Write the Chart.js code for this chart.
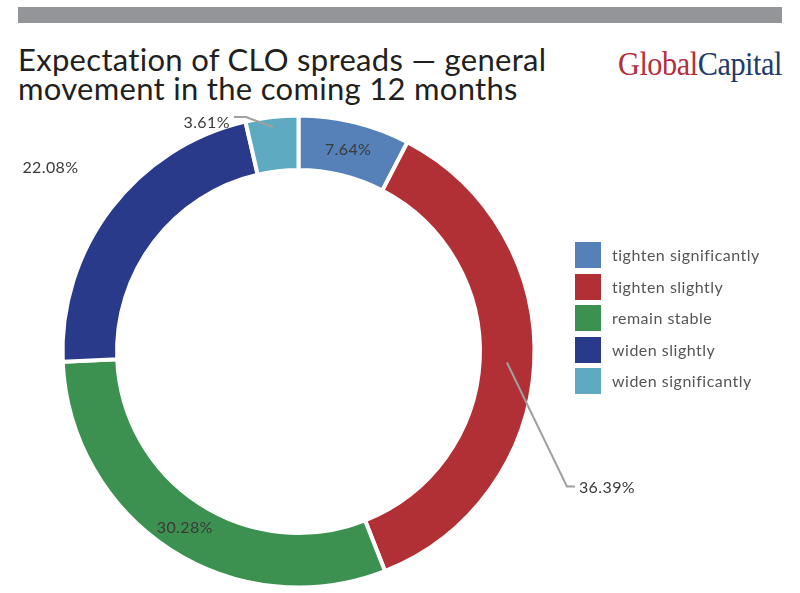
<!DOCTYPE html>
<html>
<head>
<meta charset="utf-8">
<script src="https://cdn.jsdelivr.net/npm/chart.js@4/dist/chart.umd.min.js"></script>
<style>
  html,body{margin:0;padding:0;background:#fff;}
  #wrap{position:relative;width:800px;height:593px;overflow:hidden;}
  #bar{position:absolute;left:18px;top:7px;width:764px;height:16px;background:#939598;}
  #title{position:absolute;left:18px;top:45px;font-family:Lato,"Open Sans",sans-serif;font-size:31px;line-height:29px;letter-spacing:0.3px;color:#231f20;white-space:nowrap;}
  #logo{position:absolute;left:618px;top:47px;font-family:"Liberation Serif","DejaVu Serif",serif;font-size:34px;line-height:34px;white-space:nowrap;transform-origin:0 0;letter-spacing:-0.5px;}
  #logo .g{color:#b32f3a;}
  #logo .c{color:#1f3b6b;}
  #c{position:absolute;left:0;top:0;}
  #legend{position:absolute;left:575px;top:242px;font-family:Lato,"Open Sans",sans-serif;font-size:16px;letter-spacing:0.5px;color:#555;}
  .row{position:absolute;left:0;height:26px;white-space:nowrap;}
  .sw{position:absolute;left:0;top:0;width:26px;height:26px;}
  .lt{position:absolute;left:37px;top:0;line-height:26px;}
</style>
</head>
<body>
<div id="wrap">
  <div id="bar"></div>
  <div id="title">Expectation of CLO spreads — general<br>movement in the coming 12 months</div>
  <div id="logo"><span class="g">Global</span><span class="c">Capital</span></div>
  <canvas id="c" width="800" height="593"></canvas>
  <div id="legend"></div>
</div>
<script>
const categories = ["tighten significantly", "tighten slightly", "remain stable", "widen slightly", "widen significantly"];
const shares = [7.64, 36.39, 30.28, 22.08, 3.61];
const sliceColors = ["#5581b8", "#b03035", "#3d9150", "#293a8a", "#5eaac0"];
const labelModes = ["inside", "calloutRight", "inside", "outside", "calloutLeft"];

// legend
const legend = document.getElementById('legend');
categories.forEach((name, i) => {
  const row = document.createElement('div');
  row.className = 'row';
  row.style.top = (i * 31.5) + 'px';
  const sw = document.createElement('div');
  sw.className = 'sw';
  sw.style.background = sliceColors[i];
  const lt = document.createElement('div');
  lt.className = 'lt';
  lt.textContent = name;
  row.appendChild(sw); row.appendChild(lt);
  legend.appendChild(row);
});

// logo condense
const logo = document.getElementById('logo');
const lw = logo.getBoundingClientRect().width;
logo.style.transform = 'scaleX(' + (164 / lw) + ')';

const sliceLabels = {
  id: 'sliceLabels',
  afterDatasetsDraw(chart) {
    const ctx = chart.ctx;
    const meta = chart.getDatasetMeta(0);
    ctx.save();
    ctx.font = '16px Lato, "Open Sans", sans-serif';
    try { ctx.letterSpacing = '0.4px'; } catch (e) {}
    ctx.fillStyle = '#3a3a3a';
    ctx.strokeStyle = '#a0a0a0';
    ctx.lineWidth = 2;
    meta.data.forEach((arc, i) => {
      const p = arc.getProps(['x', 'y', 'startAngle', 'endAngle', 'innerRadius', 'outerRadius'], true);
      const mid = (p.startAngle + p.endAngle) / 2;
      const txt = shares[i].toFixed(2) + '%';
      const mode = labelModes[i];
      const at = r => [p.x + r * Math.cos(mid), p.y + r * Math.sin(mid)];
      if (mode === 'inside') {
        const [x, y] = at((p.innerRadius + p.outerRadius) / 2);
        ctx.textAlign = 'center'; ctx.textBaseline = 'middle';
        ctx.fillText(txt, x, y + 1);
      } else if (mode === 'outside') {
        const [x, y] = at(p.outerRadius * 1.31);
        ctx.textAlign = 'center'; ctx.textBaseline = 'middle';
        ctx.fillText(txt, x - 2, y + 4);
      } else if (mode === 'calloutRight') {
        const [x, y] = at((p.innerRadius + p.outerRadius) / 2);
        const ex = x + 60, ey = y + 124;
        ctx.beginPath(); ctx.moveTo(x, y); ctx.lineTo(ex, ey); ctx.lineTo(ex + 8, ey); ctx.stroke();
        ctx.textAlign = 'left'; ctx.textBaseline = 'middle';
        ctx.fillText(txt, ex + 12, ey + 1);
      } else if (mode === 'calloutLeft') {
        const [x, y] = at(p.outerRadius - 10);
        const ex = x - 27, ey = y - 10;
        ctx.beginPath(); ctx.moveTo(x, y); ctx.lineTo(ex, ey); ctx.lineTo(ex - 12, ey); ctx.stroke();
        ctx.textAlign = 'right'; ctx.textBaseline = 'middle';
        ctx.fillText(txt, ex - 16, ey + 6);
      }
    });
    ctx.restore();
  }
};

new Chart(document.getElementById('c'), {
  type: 'doughnut',
  data: {
    labels: categories,
    datasets: [{
      data: shares,
      backgroundColor: sliceColors,
      borderColor: '#ffffff',
      borderWidth: 4,
      hoverOffset: 0
    }]
  },
  options: {
    responsive: false,
    animation: false,
    devicePixelRatio: 1,
    radius: 236,
    cutout: 178,
    rotation: 0,
    layout: { padding: { left: 0, right: 203, top: 118, bottom: 8 } },
    plugins: {
      legend: { display: false },
      tooltip: { enabled: false },
      title: { display: false }
    }
  },
  plugins: [sliceLabels]
});
</script>
</body>
</html>
